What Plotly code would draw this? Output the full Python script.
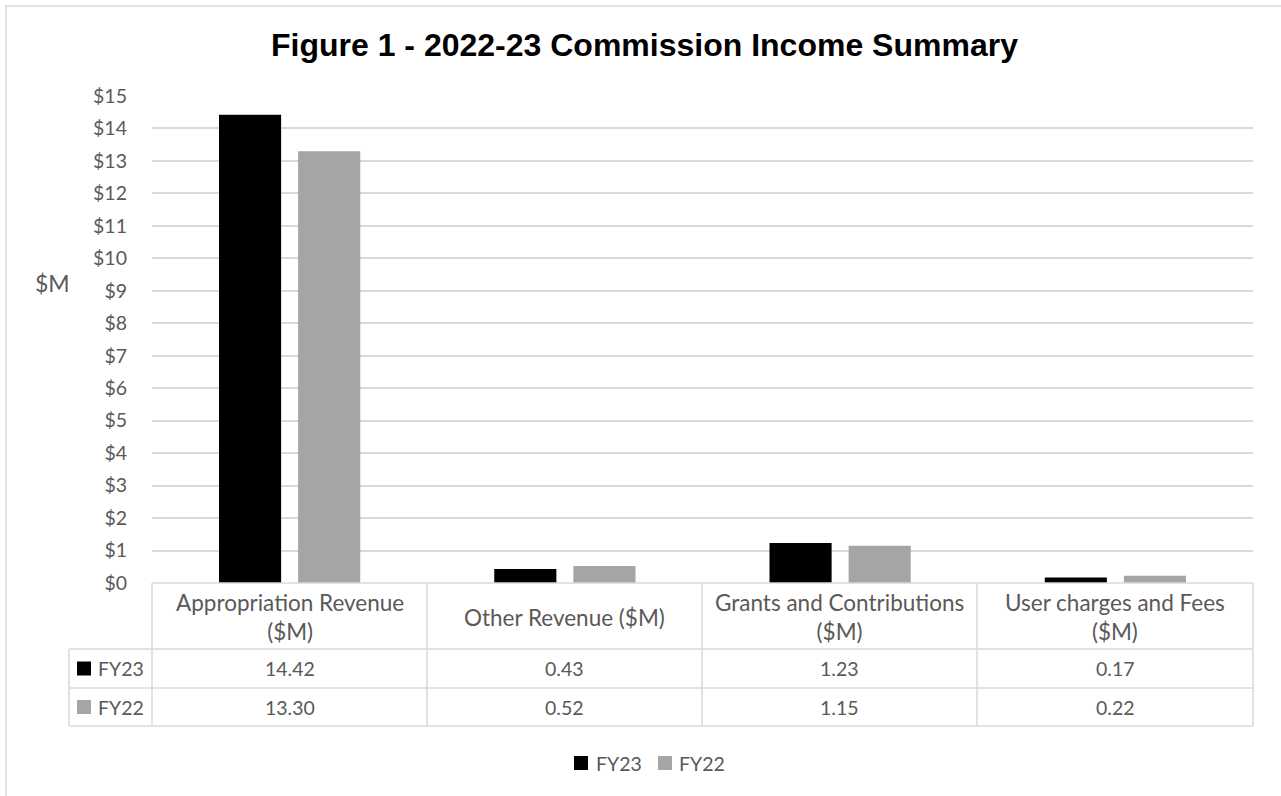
import plotly.graph_objects as go

# ---- data ----
categories = ["Appropriation Revenue ($M)", "Other Revenue ($M)",
              "Grants and Contributions ($M)", "User charges and Fees ($M)"]
header_labels = ["Appropriation Revenue<br>($M)", "Other Revenue ($M)",
                 "Grants and Contributions<br>($M)", "User charges and Fees<br>($M)"]
fy23 = [14.42, 0.43, 1.23, 0.17]
fy22 = [13.30, 0.52, 1.15, 0.22]
series_names = ["FY23", "FY22"]
series_colors = ["#000000", "#A5A5A5"]

W, H = 1281, 796
PL, PR, PT, PB = 152, 1253, 96, 583   # plot area in px

def px(x):
    return (x - PL) / (PR - PL)

def py(y):
    return (PB - y) / (PB - PT)

TXT = "#595959"
GRID = "#D9D9D9"
FONT = "Lato, 'Open Sans', sans-serif"

fig = go.Figure()
for name, vals, col in zip(series_names, [fy23, fy22], series_colors):
    fig.add_trace(go.Bar(x=categories, y=vals, name=name, marker_color=col,
                         marker_line_width=0, hoverinfo="x+y", showlegend=False))

shapes = []
annotations = []

# outer chart border (extends beyond page on right/bottom)
shapes.append(dict(type="rect", xref="paper", yref="paper",
                   x0=px(6), x1=px(1300), y0=py(6), y1=py(820),
                   line=dict(color=GRID, width=1.5), fillcolor="rgba(0,0,0,0)", layer="below"))

# data table geometry
col_edges = [152, 427, 702, 977, 1253]
lab_left = 69
row_edges = [583, 649, 688, 726]

def hline(x0, x1, y):
    shapes.append(dict(type="line", xref="paper", yref="paper",
                       x0=px(x0), x1=px(x1), y0=py(y), y1=py(y),
                       line=dict(color=GRID, width=1.5)))

def vline(x, y0, y1):
    shapes.append(dict(type="line", xref="paper", yref="paper",
                       x0=px(x), x1=px(x), y0=py(y0), y1=py(y1),
                       line=dict(color=GRID, width=1.5)))

hline(col_edges[0], col_edges[-1], row_edges[0])
hline(lab_left, col_edges[-1], row_edges[1])
hline(lab_left, col_edges[-1], row_edges[2])
hline(lab_left, col_edges[-1], row_edges[3])
for x in col_edges:
    vline(x, row_edges[0], row_edges[3])
vline(lab_left, row_edges[1], row_edges[3])

# header labels
for i, lab in enumerate(header_labels):
    cx = (col_edges[i] + col_edges[i + 1]) / 2
    annotations.append(dict(xref="paper", yref="paper", x=px(cx),
                            y=py((row_edges[0] + row_edges[1]) / 2 + 1),
                            text=lab, showarrow=False, xanchor="center", yanchor="middle",
                            font=dict(family=FONT, size=22.5, color=TXT)))

# data rows
for r, (name, vals, col) in enumerate(zip(series_names, [fy23, fy22], series_colors)):
    cy = (row_edges[r + 1] + row_edges[r + 2]) / 2
    shapes.append(dict(type="rect", xref="paper", yref="paper",
                       x0=px(77), x1=px(91), y0=py(cy - 7), y1=py(cy + 7),
                       fillcolor=col, line=dict(width=0)))
    annotations.append(dict(xref="paper", yref="paper", x=px(96), y=py(cy),
                            text=name, showarrow=False, xanchor="left", yanchor="middle",
                            font=dict(family=FONT, size=19.5, color=TXT)))
    for i, v in enumerate(vals):
        cx = (col_edges[i] + col_edges[i + 1]) / 2
        annotations.append(dict(xref="paper", yref="paper", x=px(cx), y=py(cy),
                                text=f"{v:.2f}", showarrow=False, xanchor="center",
                                yanchor="middle",
                                font=dict(family=FONT, size=19.5, color=TXT)))

# legend (drawn manually to match spacing)
leg_y = 763
for sx, tx, name, col in zip([574, 658], [594, 677], series_names, series_colors):
    shapes.append(dict(type="rect", xref="paper", yref="paper",
                       x0=px(sx), x1=px(sx + 14), y0=py(leg_y - 7), y1=py(leg_y + 7),
                       fillcolor=col, line=dict(width=0)))
    annotations.append(dict(xref="paper", yref="paper", x=px(tx), y=py(leg_y),
                            text=name, showarrow=False, xanchor="left", yanchor="middle",
                            font=dict(family=FONT, size=19.5, color=TXT)))

# axis title
annotations.append(dict(xref="paper", yref="paper", x=px(52), y=py(283), text="$M",
                        showarrow=False, xanchor="center", yanchor="middle",
                        font=dict(family=FONT, size=23, color=TXT)))

# chart title
annotations.append(dict(xref="paper", yref="paper", x=px(644), y=py(45),
                        text="<b>Figure 1 - 2022-23 Commission Income Summary</b>",
                        showarrow=False, xanchor="center", yanchor="middle",
                        font=dict(family="'Liberation Sans', Arial, sans-serif", size=32,
                                  color="#000000")))

fig.update_layout(
    width=W, height=H,
    margin=dict(l=PL, r=W - PR, t=PT, b=H - PB, autoexpand=False),
    paper_bgcolor="white", plot_bgcolor="white",
    barmode="group", bargap=0.425, bargroupgap=0.215,
    shapes=shapes, annotations=annotations,
    showlegend=False,
    xaxis=dict(showticklabels=False, showgrid=False, zeroline=False, showline=False,
               ticks=""),
    yaxis=dict(range=[0, 15], dtick=1, tickprefix="$", showgrid=True, gridcolor=GRID,
               gridwidth=1.5, zeroline=False, showline=False, ticks="",
               tickfont=dict(family=FONT, size=19.5, color=TXT), ticklabelstandoff=24),
)

fig.write_html("out.html")
